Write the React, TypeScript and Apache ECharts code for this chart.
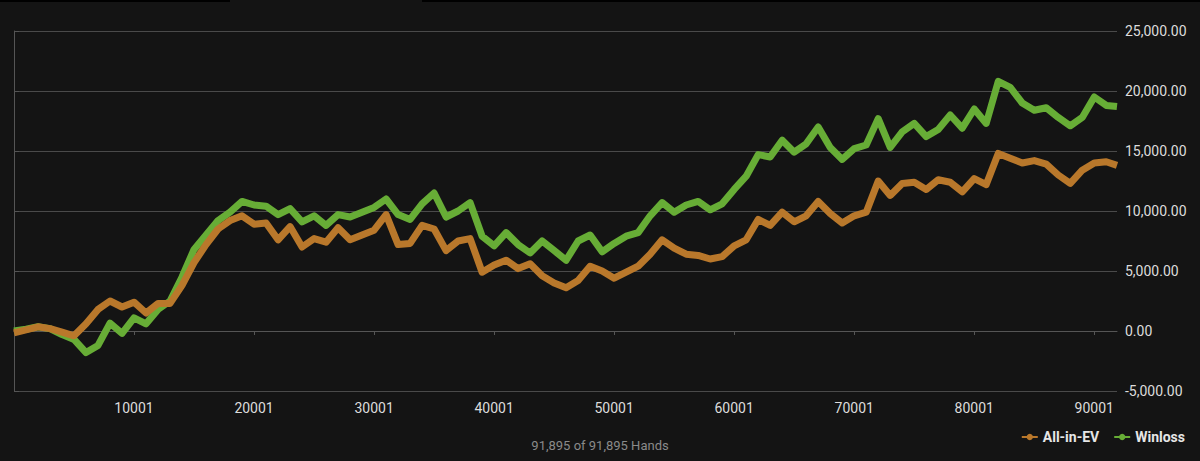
import React, { useEffect, useRef } from "react";
import * as echarts from "echarts";

const hands = [
  1, 1001, 2001, 3001, 4001, 5001, 6001, 7001, 8001, 9001,
  10001, 11001, 12001, 13001, 14001, 15001, 16001, 17001, 18001, 19001,
  20001, 21001, 22001, 23001, 24001, 25001, 26001, 27001, 28001, 29001,
  30001, 31001, 32001, 33001, 34001, 35001, 36001, 37001, 38001, 39001,
  40001, 41001, 42001, 43001, 44001, 45001, 46001, 47001, 48001, 49001,
  50001, 51001, 52001, 53001, 54001, 55001, 56001, 57001, 58001, 59001,
  60001, 61001, 62001, 63001, 64001, 65001, 66001, 67001, 68001, 69001,
  70001, 71001, 72001, 73001, 74001, 75001, 76001, 77001, 78001, 79001,
  80001, 81001, 82001, 83001, 84001, 85001, 86001, 87001, 88001, 89001,
  90001, 91001, 91895,
];

const winloss = [
  0, 150, 350, 200, -300, -700, -1800, -1200, 650, -200,
  1100, 600, 1800, 2500, 4500, 6800, 8000, 9200, 9900, 10800,
  10500, 10400, 9700, 10200, 9100, 9600, 8800, 9700, 9500, 9900,
  10300, 11000, 9700, 9300, 10600, 11500, 9500, 10000, 10700, 7900,
  7100, 8200, 7200, 6500, 7500, 6700, 5900, 7500, 8000, 6600,
  7300, 7900, 8200, 9600, 10700, 9900, 10500, 10800, 10100, 10600,
  11800, 12900, 14700, 14500, 15900, 14900, 15600, 17000, 15300, 14300,
  15200, 15500, 17700, 15300, 16600, 17300, 16200, 16800, 18000, 16900,
  18500, 17300, 20800, 20300, 19000, 18400, 18600, 17800, 17100, 17800,
  19500, 18800, 18700,
];

const allInEv = [
  -150, 100, 350, 200, -100, -400, 600, 1800, 2500, 2000,
  2400, 1500, 2300, 2300, 3800, 5700, 7200, 8500, 9200, 9600,
  8900, 9000, 7600, 8700, 7000, 7700, 7400, 8600, 7600, 8000,
  8400, 9700, 7200, 7300, 8800, 8500, 6700, 7500, 7700, 4900,
  5500, 5900, 5200, 5600, 4600, 4000, 3600, 4200, 5400, 5000,
  4400, 4900, 5400, 6400, 7600, 6900, 6400, 6300, 6000, 6200,
  7100, 7600, 9300, 8800, 9900, 9100, 9600, 10800, 9800, 9000,
  9600, 9900, 12500, 11300, 12300, 12400, 11800, 12600, 12400, 11600,
  12700, 12200, 14800, 14400, 14000, 14200, 13900, 13000, 12300, 13400,
  14000, 14100, 13800,
];

const seriesNames = ["All-in-EV", "Winloss"];
const yTicks = { min: -5000, max: 25000, step: 5000 };
const totalHands = 91895;
const footerText = "91,895 of 91,895 Hands";

const GREEN = "#67ad36";
const ORANGE = "#b9782b";

export default function App() {
  const ref = useRef<HTMLDivElement>(null);

  useEffect(() => {
    if (!ref.current) return;
    const chart = echarts.init(ref.current, undefined, { renderer: "svg" });
    const fmt = (v: number) =>
      v.toLocaleString("en-US", { minimumFractionDigits: 2, maximumFractionDigits: 2 });
    chart.setOption({
      animation: false,
      backgroundColor: "#141414",
      textStyle: { fontFamily: "Roboto" },
      grid: { left: 14, right: 83, top: 31, bottom: 70, containLabel: false },
      legend: {
        data: seriesNames,
        right: 10,
        bottom: 12,
        itemWidth: 16,
        itemHeight: 8,
        itemGap: 14,
        textStyle: { color: "#e6e6e6", fontSize: 14, fontWeight: "bold", fontFamily: "Roboto" },
      },
      graphic: [
        { type: "rect", shape: { x: 0, y: 0, width: 230, height: 2 }, style: { fill: "#000" } },
        { type: "rect", shape: { x: 422, y: 0, width: 778, height: 2 }, style: { fill: "#000" } },
        {
          type: "text",
          left: "center",
          top: 439,
          style: { text: footerText, fill: "#8a8a8a", fontSize: 13, fontFamily: "Roboto" },
        },
      ],
      xAxis: {
        type: "value",
        min: 0,
        max: totalHands - 1,
        interval: 10000,
        axisLine: { show: true, lineStyle: { color: "#555", width: 1 } },
        axisTick: { show: true, length: 4, lineStyle: { color: "#555" } },
        splitLine: { show: false },
        axisLabel: {
          color: "#dcdcdc",
          fontSize: 14,
          margin: 10,
          formatter: (v: number) => (v === 0 ? "" : String(v + 1)),
          showMaxLabel: false,
        },
      },
      yAxis: {
        type: "value",
        position: "right",
        min: yTicks.min,
        max: yTicks.max,
        interval: yTicks.step,
        axisLine: { show: true, lineStyle: { color: "#555", width: 1 } },
        axisTick: { show: true, length: 5, lineStyle: { color: "#555" } },
        splitLine: { show: true, lineStyle: { color: "#4a4a4a", width: 1 } },
        axisLabel: { color: "#dcdcdc", fontSize: 14, margin: 8, formatter: fmt },
      },
      series: [
        {
          name: "Winloss",
          type: "line",
          data: hands.map((h, i) => [h - 1, winloss[i]]),
          symbol: "circle",
          symbolSize: 6,
          showSymbol: false,
          lineStyle: { color: GREEN, width: 7, join: "round" },
          itemStyle: { color: GREEN },
          z: 2,
        },
        {
          name: "All-in-EV",
          type: "line",
          data: hands.map((h, i) => [h - 1, allInEv[i]]),
          symbol: "circle",
          symbolSize: 6,
          showSymbol: false,
          lineStyle: { color: ORANGE, width: 7, join: "round" },
          itemStyle: { color: ORANGE },
          z: 3,
        },
      ],
    });
    return () => chart.dispose();
  }, []);

  return (
    <div
      ref={ref}
      style={{ position: "fixed", left: 0, top: 0, width: 1200, height: 461 }}
    />
  );
}
